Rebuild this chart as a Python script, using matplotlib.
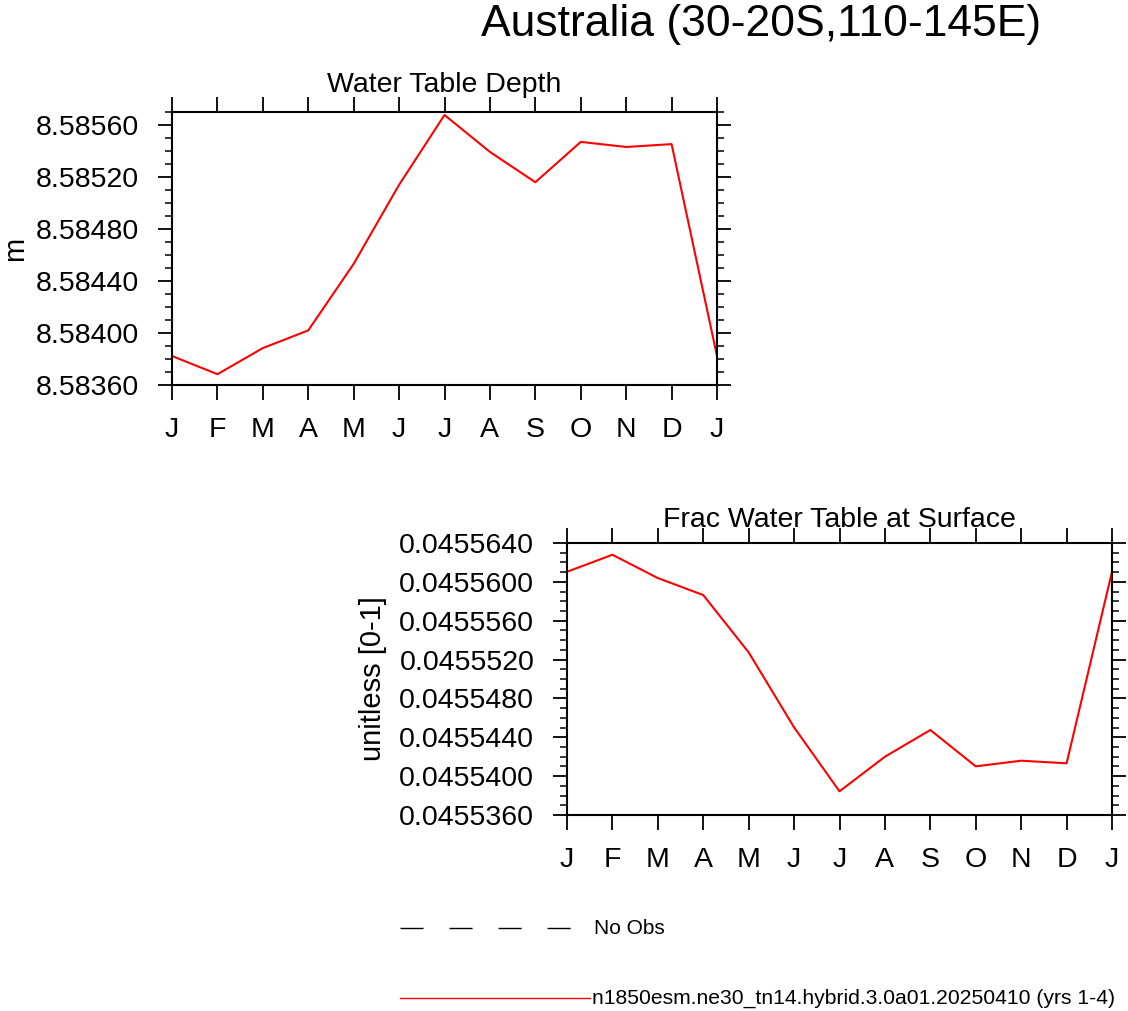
import numpy as np
import matplotlib
matplotlib.use("Agg")
import matplotlib.pyplot as plt
from matplotlib.lines import Line2D
from matplotlib.ticker import FixedLocator, FormatStrFormatter

plt.rcParams['font.family'] = ['Liberation Sans', 'DejaVu Sans']

months = ["J", "F", "M", "A", "M", "J", "J", "A", "S", "O", "N", "D", "J"]

# monthly climatology, Jan repeated at the end
wtd = [8.583823, 8.583683, 8.583884, 8.584020, 8.584532, 8.585140, 8.585677,
       8.585393, 8.585160, 8.585470, 8.585431, 8.585453, 8.583823]
frac_wt = [0.04556104, 0.04556279, 0.04556039, 0.04555864, 0.04555274,
           0.04554502, 0.04553844, 0.04554200, 0.04554475, 0.04554101,
           0.04554159, 0.04554132, 0.04556104]

case_name = "n1850esm.ne30_tn14.hybrid.3.0a01.20250410 (yrs 1-4)"
region = "Australia (30-20S,110-145E)"

W, H = 1128, 1011
fig = plt.figure(figsize=(W / 100, H / 100), dpi=100)


def style_axes(ax, ylo, yhi, major, minor, fmt, ylabel, labelpad):
    x = np.arange(len(months))
    ax.set_xlim(0, 12)
    ax.set_ylim(ylo, yhi)
    ax.set_xticks(x)
    ax.set_xticklabels(months)
    ax.yaxis.set_major_locator(FixedLocator(major))
    ax.yaxis.set_minor_locator(FixedLocator(minor))
    ax.yaxis.set_major_formatter(FormatStrFormatter(fmt))
    ax.tick_params(axis='x', which='major', direction='out', length=11, width=1.3,
                   top=True, bottom=True, labelsize=20.5, pad=12)
    ax.tick_params(axis='y', which='major', direction='out', length=10, width=1.3,
                   left=True, right=True, labelsize=20.5, pad=13.5)
    ax.tick_params(axis='y', which='minor', direction='out', length=5, width=1.1,
                   left=True, right=True)
    for s in ax.spines.values():
        s.set_linewidth(1.5)
    ax.set_ylabel(ylabel, fontsize=21, labelpad=labelpad)


# top panel
ax1 = fig.add_axes([172 / W, 1 - 385 / H, 545 / W, 273 / H])
ax1.plot(np.arange(len(wtd)), wtd, color='red', lw=1.5)
style_axes(ax1, 8.5836, 8.5857,
           np.linspace(8.5836, 8.5856, 6), np.linspace(8.5836, 8.5857, 22),
           '%.5f', 'm', 5)
fig.text((172 + 717) / 2 / W, 1 - 92 / H, "Water Table Depth", fontsize=20.5,
         ha='center', va='baseline')

# bottom panel
ax2 = fig.add_axes([567 / W, 1 - 815 / H, 545 / W, 272 / H])
ax2.plot(np.arange(len(frac_wt)), frac_wt, color='red', lw=1.5)
style_axes(ax2, 0.045536, 0.045564,
           np.linspace(0.045536, 0.045564, 8), np.linspace(0.045536, 0.045564, 29),
           '%.7f', 'unitless [0-1]', 9)
fig.text((567 + 1112) / 2 / W, 1 - 527 / H, "Frac Water Table at Surface",
         fontsize=20.5, ha='center', va='baseline')

fig.text(761 / W, 1 - 36 / H, region, fontsize=32, ha='center', va='baseline')

# legend
fig.add_artist(Line2D([400 / W, 572 / W], [1 - 928 / H, 1 - 928 / H], color='black',
                      lw=1.0, dashes=(16.6, 18.7), transform=fig.transFigure))
fig.text(594 / W, 1 - 928 / H, "No Obs", fontsize=15, ha='left', va='center')
fig.add_artist(Line2D([400 / W, 590 / W], [1 - 998 / H, 1 - 998 / H], color='red',
                      lw=1.0, transform=fig.transFigure))
fig.text(592 / W, 1 - 998 / H, case_name, fontsize=15.2, ha='left', va='center')

fig.savefig("out.png", dpi=100)
